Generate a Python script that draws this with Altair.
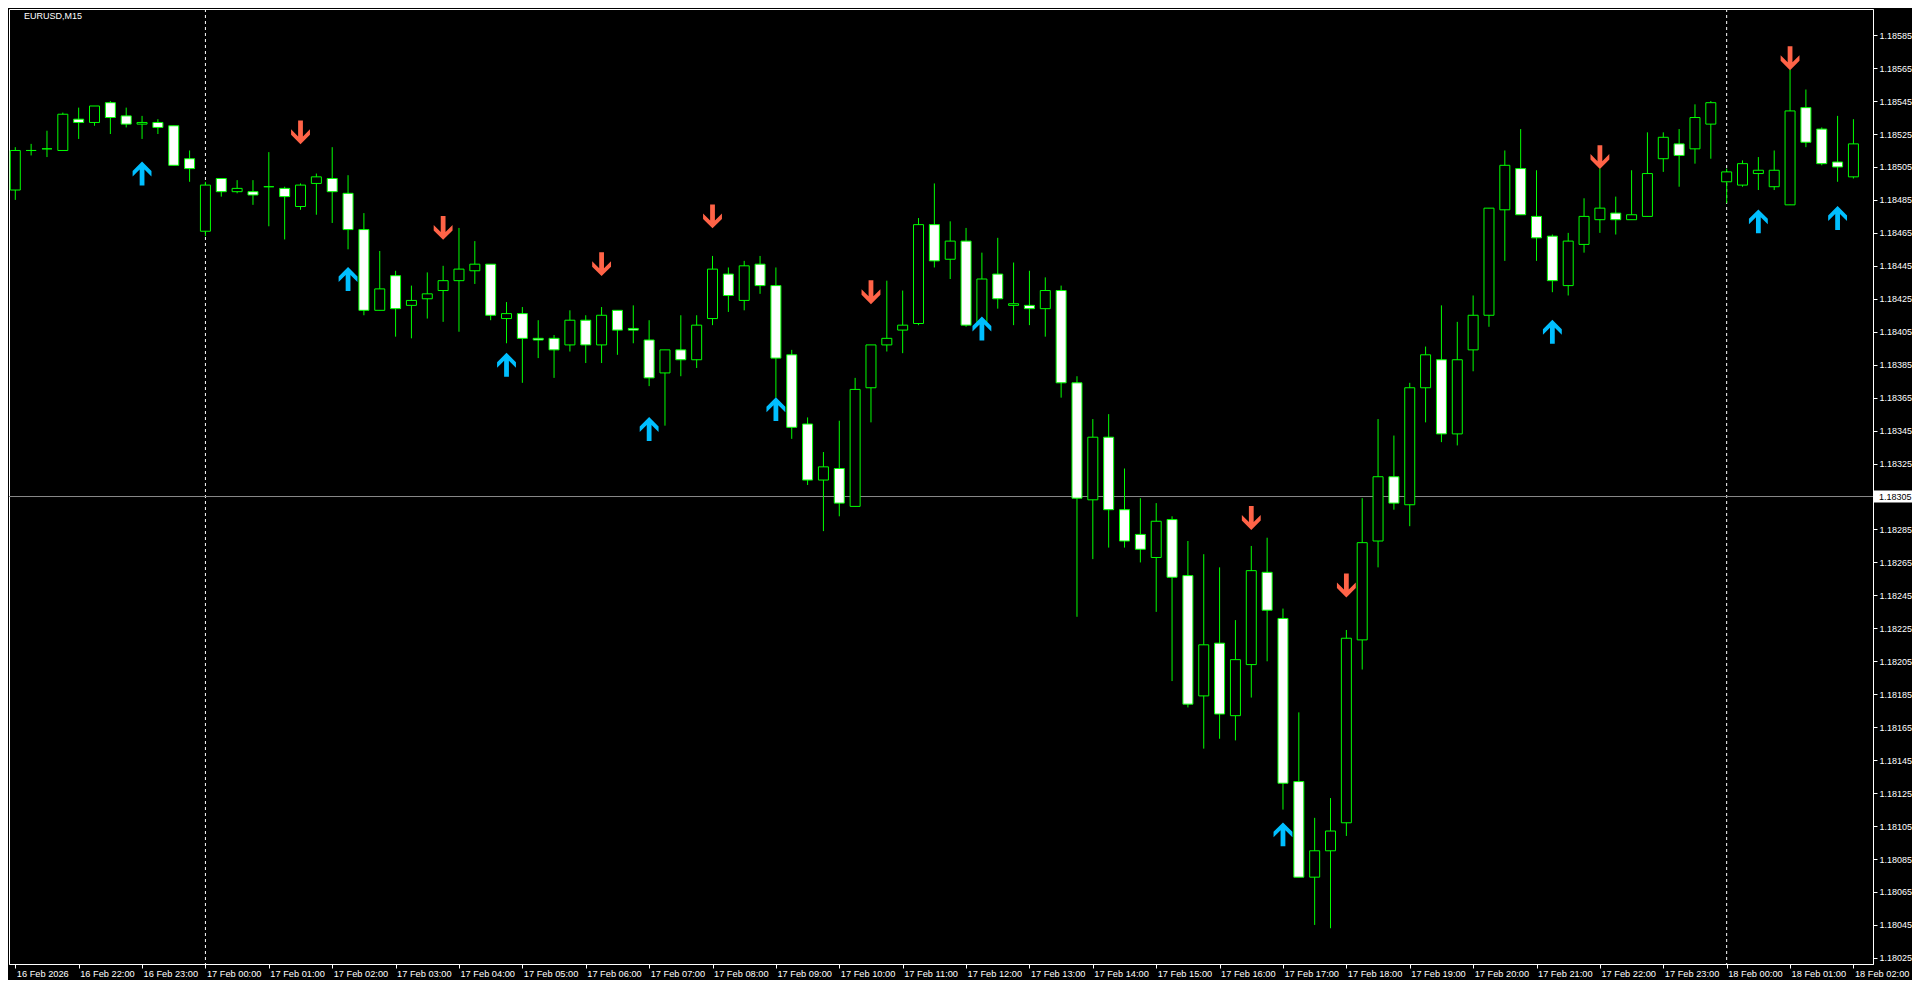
import altair as alt
import pandas as pd

symbol_title = "EURUSD,M15"

# bar index: 0 = 17 Feb 00:00 (M15 bars); first bar = 16 Feb 21:00
first_bar = -12

opens = [
    1.18491, 1.18515, 1.18516, 1.18515, 1.18534, 1.18532, 1.18544, 1.18536, 1.18531, 1.18532, 1.18530, 1.18510,
    1.18466, 1.18498, 1.18490, 1.18490, 1.18493, 1.18492, 1.18481, 1.18495, 1.18498, 1.18489,
    1.18467, 1.18418, 1.18439, 1.18421, 1.18425, 1.18430, 1.18436, 1.18442, 1.18446, 1.18413,
    1.18416, 1.18401, 1.18401, 1.18397, 1.18412, 1.18397, 1.18418, 1.18407, 1.18400, 1.18380,
    1.18394, 1.18388, 1.18413, 1.18440, 1.18424, 1.18446, 1.18433, 1.18391, 1.18349, 1.18315,
    1.18322, 1.18299, 1.18371, 1.18397, 1.18406, 1.18410, 1.18470, 1.18449, 1.18460, 1.18411,
    1.18440, 1.18421, 1.18421, 1.18419, 1.18430, 1.18374, 1.18303, 1.18341, 1.18297, 1.18282,
    1.18268, 1.18291, 1.18257, 1.18184, 1.18216, 1.18172, 1.18203, 1.18259, 1.18231, 1.18132,
    1.18074, 1.18090, 1.18107, 1.18218, 1.18278, 1.18317, 1.18300, 1.18371, 1.18388, 1.18343,
    1.18394, 1.18415, 1.18479, 1.18504, 1.18475, 1.18463, 1.18433, 1.18458, 1.18473, 1.18477,
    1.18473, 1.18475, 1.18510, 1.18519, 1.18516, 1.18531, 1.18496, 1.18494, 1.18501, 1.18493,
    1.18482, 1.18541, 1.18528, 1.18508, 1.18499,
]
highs = [
    1.18517, 1.18519, 1.18527, 1.18538, 1.18541, 1.18542, 1.18545, 1.18541, 1.18536, 1.18534, 1.18530, 1.18515,
    1.18496, 1.18498, 1.18497, 1.18497, 1.18514, 1.18493, 1.18495, 1.18501, 1.18517, 1.18500,
    1.18477, 1.18454, 1.18442, 1.18433, 1.18441, 1.18445, 1.18468, 1.18460, 1.18446, 1.18423,
    1.18420, 1.18412, 1.18403, 1.18418, 1.18415, 1.18420, 1.18418, 1.18421, 1.18412, 1.18394,
    1.18415, 1.18415, 1.18451, 1.18444, 1.18448, 1.18451, 1.18444, 1.18394, 1.18353, 1.18332,
    1.18351, 1.18377, 1.18397, 1.18436, 1.18430, 1.18474, 1.18495, 1.18472, 1.18468, 1.18453,
    1.18462, 1.18447, 1.18442, 1.18438, 1.18433, 1.18378, 1.18352, 1.18355, 1.18322, 1.18304,
    1.18301, 1.18293, 1.18278, 1.18270, 1.18262, 1.18230, 1.18275, 1.18280, 1.18237, 1.18174,
    1.18110, 1.18122, 1.18224, 1.18304, 1.18352, 1.18342, 1.18374, 1.18396, 1.18421, 1.18411,
    1.18427, 1.18480, 1.18515, 1.18528, 1.18503, 1.18464, 1.18465, 1.18486, 1.18504, 1.18487,
    1.18503, 1.18526, 1.18526, 1.18528, 1.18543, 1.18545, 1.18504, 1.18509, 1.18511, 1.18515,
    1.18564, 1.18552, 1.18529, 1.18536, 1.18534,
]
lows = [
    1.18485, 1.18512, 1.18511, 1.18515, 1.18522, 1.18530, 1.18525, 1.18529, 1.18522, 1.18525, 1.18506, 1.18496,
    1.18463, 1.18487, 1.18489, 1.18482, 1.18469, 1.18461, 1.18479, 1.18476, 1.18471, 1.18455,
    1.18415, 1.18418, 1.18402, 1.18401, 1.18413, 1.18411, 1.18405, 1.18434, 1.18412, 1.18398,
    1.18374, 1.18389, 1.18377, 1.18393, 1.18386, 1.18386, 1.18391, 1.18398, 1.18372, 1.18348,
    1.18378, 1.18383, 1.18409, 1.18417, 1.18418, 1.18428, 1.18365, 1.18340, 1.18312, 1.18284,
    1.18293, 1.18299, 1.18350, 1.18393, 1.18392, 1.18409, 1.18444, 1.18437, 1.18408, 1.18409,
    1.18419, 1.18409, 1.18409, 1.18402, 1.18365, 1.18232, 1.18267, 1.18274, 1.18274, 1.18265,
    1.18235, 1.18193, 1.18177, 1.18152, 1.18158, 1.18157, 1.18183, 1.18205, 1.18115, 1.18074,
    1.18045, 1.18043, 1.18099, 1.18200, 1.18262, 1.18297, 1.18287, 1.18350, 1.18338, 1.18336,
    1.18381, 1.18408, 1.18448, 1.18476, 1.18448, 1.18429, 1.18427, 1.18453, 1.18465, 1.18464,
    1.18473, 1.18475, 1.18502, 1.18493, 1.18507, 1.18510, 1.18483, 1.18493, 1.18491, 1.18491,
    1.18482, 1.18517, 1.18506, 1.18496, 1.18498,
]
closes = [
    1.18515, 1.18515, 1.18516, 1.18537, 1.18532, 1.18542, 1.18535, 1.18531, 1.18532, 1.18529, 1.18506, 1.18504,
    1.18494, 1.18490, 1.18492, 1.18488, 1.18493, 1.18487, 1.18494, 1.18499, 1.18490, 1.18467,
    1.18418, 1.18431, 1.18419, 1.18424, 1.18428, 1.18436, 1.18443, 1.18446, 1.18415, 1.18416,
    1.18401, 1.18400, 1.18394, 1.18412, 1.18397, 1.18415, 1.18406, 1.18406, 1.18377, 1.18394,
    1.18388, 1.18409, 1.18443, 1.18427, 1.18445, 1.18433, 1.18389, 1.18347, 1.18315, 1.18323,
    1.18301, 1.18370, 1.18397, 1.18401, 1.18409, 1.18470, 1.18448, 1.18460, 1.18409, 1.18437,
    1.18425, 1.18422, 1.18419, 1.18430, 1.18374, 1.18304, 1.18341, 1.18297, 1.18278, 1.18273,
    1.18290, 1.18256, 1.18179, 1.18215, 1.18173, 1.18206, 1.18260, 1.18236, 1.18131, 1.18074,
    1.18090, 1.18102, 1.18219, 1.18277, 1.18317, 1.18301, 1.18371, 1.18391, 1.18343, 1.18388,
    1.18415, 1.18480, 1.18506, 1.18476, 1.18462, 1.18436, 1.18460, 1.18475, 1.18480, 1.18473,
    1.18476, 1.18501, 1.18523, 1.18512, 1.18535, 1.18544, 1.18502, 1.18507, 1.18503, 1.18503,
    1.18539, 1.18520, 1.18507, 1.18505, 1.18519,
]

up_arrow_bars = [-4, 9, 19, 28, 36, 49, 68, 85, 98, 103]
up_arrow_prices = [1.18501, 1.18437, 1.18385, 1.18346, 1.18358, 1.18407, 1.18100, 1.18405, 1.18472, 1.18474]
down_arrow_bars = [6, 15, 25, 32, 42, 66, 72, 88, 100]
down_arrow_prices = [1.18526, 1.18468, 1.18446, 1.18475, 1.18429, 1.18292, 1.18251, 1.18511, 1.18571]

separator_bars = [0, 96]
current_price = 1.18305

hour_tick_bars = [-12, -8, -4, 0, 4, 8, 12, 16, 20, 24, 28, 32, 36, 40, 44, 48, 52, 56, 60, 64,
                  68, 72, 76, 80, 84, 88, 92, 96, 100, 104]
hour_tick_labels = [
    "16 Feb 2026", "16 Feb 22:00", "16 Feb 23:00",
    "17 Feb 00:00", "17 Feb 01:00", "17 Feb 02:00", "17 Feb 03:00", "17 Feb 04:00", "17 Feb 05:00",
    "17 Feb 06:00", "17 Feb 07:00", "17 Feb 08:00", "17 Feb 09:00", "17 Feb 10:00", "17 Feb 11:00",
    "17 Feb 12:00", "17 Feb 13:00", "17 Feb 14:00", "17 Feb 15:00", "17 Feb 16:00", "17 Feb 17:00",
    "17 Feb 18:00", "17 Feb 19:00", "17 Feb 20:00", "17 Feb 21:00", "17 Feb 22:00", "17 Feb 23:00",
    "18 Feb 00:00", "18 Feb 01:00", "18 Feb 02:00",
]
price_ticks = [1.18025, 1.18045, 1.18065, 1.18085, 1.18105, 1.18125, 1.18145, 1.18165, 1.18185,
               1.18205, 1.18225, 1.18245, 1.18265, 1.18285, 1.18305, 1.18325, 1.18345, 1.18365,
               1.18385, 1.18405, 1.18425, 1.18445, 1.18465, 1.18485, 1.18505, 1.18525, 1.18545,
               1.18565, 1.18585]

# ---------------- layout / style ----------------
W, H = 1864, 955
GREEN = "#00FF00"
FONT = "Liberation Sans"

bars = pd.DataFrame({
    "k": list(range(first_bar, first_bar + len(opens))),
    "o": opens, "h": highs, "l": lows, "c": closes,
})
bars["fill"] = ["black" if c >= o else "white" for o, c in zip(opens, closes)]

ups = pd.DataFrame({"k": up_arrow_bars, "p": up_arrow_prices})
downs = pd.DataFrame({"k": down_arrow_bars, "p": down_arrow_prices})
seps = pd.DataFrame({"k": separator_bars})
cur = pd.DataFrame({"p": [current_price]})
ttl = pd.DataFrame({"t": [symbol_title]})

x_scale = alt.Scale(domain=[-12.081, 104.919], nice=False, zero=False)
y_scale = alt.Scale(domain=[1.180213, 1.1860086], nice=False, zero=False)

js_labels = "[" + ",".join("'" + s + "'" for s in hour_tick_labels) + "]"
x_axis = alt.Axis(
    values=hour_tick_bars, labelExpr=f"{js_labels}[round((datum.value - ({hour_tick_bars[0]})) / 4)]",
    orient="bottom", title=None, grid=False, domainColor="white", tickColor="white",
    labelColor="white", tickSize=4, labelPadding=1, labelAlign="left", labelBaseline="top",
    labelOffset=1, labelFont=FONT, labelFontSize=9.25, labelOverlap=False, labelBound=False,
    labelFlush=False,
)
y_axis = alt.Axis(
    values=price_ticks, format=".5f", orient="right", title=None, grid=False,
    domainColor="white", tickColor="white", labelColor="white", tickSize=4, labelPadding=2,
    labelFont=FONT, labelFontSize=9, labelOverlap=False, labelBound=False, labelFlush=False,
)


def X(f):
    return alt.X(f, scale=x_scale, axis=x_axis)


def Y(f):
    return alt.Y(f, scale=y_scale, axis=y_axis)


sep_layer = alt.Chart(seps).mark_rule(color="white", strokeDash=[3, 3], strokeWidth=1).encode(x=X("k:Q"))
price_line = alt.Chart(cur).mark_rule(color="#8a8a8a", strokeWidth=1).encode(y=Y("p:Q"))

wicks = alt.Chart(bars).mark_rule(color=GREEN, strokeWidth=1, clip=True).encode(
    x=X("k:Q"), y=Y("l:Q"), y2="h:Q")
bodies = alt.Chart(bars).mark_bar(size=10, stroke=GREEN, strokeWidth=1, clip=True).encode(
    x=X("k:Q"), y=Y("o:Q"), y2="c:Q", fill=alt.Fill("fill:N", scale=None))

up_path = "M0,-1 L0.79,-0.21 L0.79,0.25 L0.2,-0.34 L0.2,1 L-0.2,1 L-0.2,-0.34 L-0.79,0.25 L-0.79,-0.21 Z"
down_path = "M0,1 L0.79,0.21 L0.79,-0.25 L0.2,0.34 L0.2,-1 L-0.2,-1 L-0.2,0.34 L-0.79,-0.25 L-0.79,0.21 Z"

up_layer = alt.Chart(ups).mark_point(shape=up_path, size=570, filled=True, fill="#00BFFF",
                                      opacity=1).encode(x=X("k:Q"), y=Y("p:Q"))
down_layer = alt.Chart(downs).mark_point(shape=down_path, size=570, filled=True, fill="#FF6347",
                                          opacity=1).encode(x=X("k:Q"), y=Y("p:Q"))

box = alt.Chart(cur).transform_calculate(
    lo="datum.p - 0.0000365", hi="datum.p + 0.0000365"
).mark_rect(color="white").encode(
    x=alt.value(W + 1), x2=alt.value(W + 39), y=Y("lo:Q"), y2="hi:Q")
box_text = alt.Chart(cur).mark_text(align="left", baseline="middle", color="black", fontSize=9,
                                    font=FONT).encode(
    x=alt.value(W + 6), y=Y("p:Q"), text=alt.Text("p:Q", format=".5f"))

title_text = alt.Chart(ttl).mark_text(align="left", baseline="middle", color="white", fontSize=9,
                                      font=FONT).encode(x=alt.value(15), y=alt.value(7), text="t:N")

chart = alt.layer(
    sep_layer, price_line, wicks, bodies, up_layer, down_layer, box, box_text, title_text
).properties(
    width=W, height=H, background="black",
    padding={"left": 1, "top": 1, "right": 39, "bottom": 16},
    autosize=alt.AutoSizeParams(type="none"),
).configure_view(stroke="white", strokeWidth=1)

chart.save("out.html", embed_options={"renderer": "svg", "actions": False})
